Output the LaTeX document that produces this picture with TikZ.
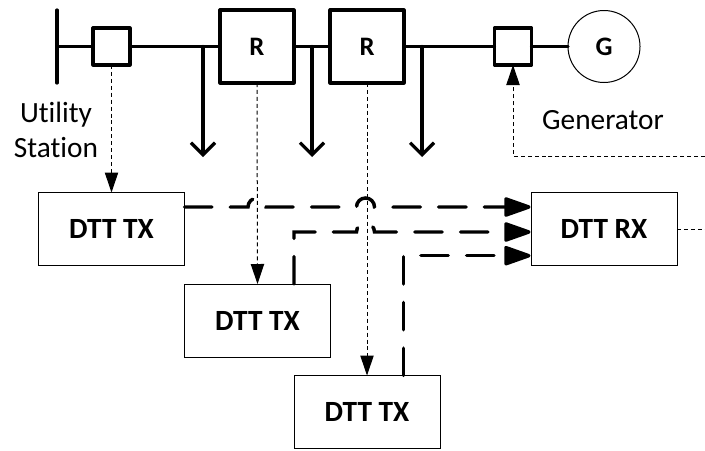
\documentclass[tikz,border=0pt]{standalone}
\usepackage{fontspec}
\setmainfont[Ligatures=NoCommon]{Carlito}
\usetikzlibrary{arrows.meta}
\tikzset{
  power/.style={line width=2.4pt,line cap=round},
  heavybox/.style={draw,line width=2.4pt,line join=round,outer sep=0pt,inner sep=0pt,font=\fontsize{20}{24}\bfseries\selectfont},
  breaker/.style={heavybox,minimum width=27.75pt,minimum height=27.75pt},
  relay/.style={heavybox,minimum width=55.5pt,minimum height=54.75pt},
  dttbox/.style={draw,line width=0.75pt,outer sep=0pt,inner sep=0pt,minimum width=109.5pt,minimum height=54.75pt,font=\fontsize{22}{26}\bfseries\selectfont},
  gencircle/.style={draw,circle,line width=0.75pt,outer sep=0pt,inner sep=0pt,minimum size=54pt,font=\fontsize{20}{24}\bfseries\selectfont},
  caption/.style={inner sep=0pt,align=center,font=\fontsize{22}{27}\selectfont},
  load/.style={power,-{Straight Barb[length=9pt,width=18pt,line width=2.4pt]}},
  signal/.style={line width=0.75pt,dash pattern=on 3pt off 2.2pt},
  signaltip/.style={signal,-{Triangle[length=15pt,width=10pt]}},
  trip/.style={line width=2.6pt,line cap=round,dash pattern=on 20.5pt off 13.8pt,-{Triangle[length=22.5pt,width=15pt,round=false]}},
  hop/.style={insert path={arc[start angle=180,end angle=0,radius=6.75pt]}}
}
\begin{document}
\begin{tikzpicture}[x=0.75pt,y=-0.75pt]
\useasboundingbox (0,0) rectangle (705,450);
% nodes
\coordinate (bustop) at (57,10);
\coordinate (busbot) at (57,83);
\coordinate (busmid) at (57,46.5);
\node[breaker] (b1) at (111.5,46.5) {};
\node[relay] (r1) at (257,46.5) {R};
\node[relay] (r2) at (367,46.5) {R};
\node[breaker] (b2) at (513,46.5) {};
\node[gencircle] (g) at (604,46.5) {G};
\node[dttbox] (tx1) at (111.5,229) {DTT TX};
\node[dttbox] (tx2) at (257.5,320.5) {DTT TX};
\node[dttbox] (tx3) at (367,412) {DTT TX};
\node[dttbox] (rx) at (604,229) {DTT RX};
\node[caption] (util) at (56,130) {Utility\\[-1pt]Station};
\node[caption] (gen) at (603,120) {Generator};
% free ends
\coordinate (l1a) at (203,46.5);
\coordinate (l1b) at (203,157);
\coordinate (l2a) at (312,46.5);
\coordinate (l2b) at (312,157);
\coordinate (l3a) at (422,46.5);
\coordinate (l3b) at (422,157);
\coordinate (fbk) at (513,156);
\coordinate (fbkend) at (705,156);
\coordinate (rxend) at (705,229);
\coordinate (hopa) at (248,207);
\coordinate (hopb) at (265,207);
\coordinate (hopc) at (356.5,207);
\coordinate (hopd) at (374.5,207);
\coordinate (rxa) at (530.5,207);
\coordinate (rxb) at (530.5,232);
\coordinate (rxc) at (530.5,255.7);
\coordinate (tx2up) at (294,284);
\coordinate (tx2corner) at (294,232);
\coordinate (hope) at (356.5,232);
\coordinate (tx3up) at (403.5,375.5);
\coordinate (tx3corner) at (403.5,255.7);
% power lines
\draw[power] (bustop) -- (busbot);
\draw[power] (busmid) -- (b1.west);
\draw[power] (b1.east) -- (r1.west);
\draw[power] (r1.east) -- (r2.west);
\draw[power] (r2.east) -- (b2.west);
\draw[power] (b2.east) -- (g.west);
\draw[load] (l1a) -- (l1b);
\draw[load] (l2a) -- (l2b);
\draw[load] (l3a) -- (l3b);
% signal lines
\draw[signaltip] (b1.south) -- (tx1.north);
\draw[signaltip] (r1.south) -- (tx2.north);
\draw[signaltip] (r2.south) -- (tx3.north);
\draw[signaltip] (fbkend) -- (fbk) -- (b2.south);
\draw[signal] (rx.east) -- (rxend);
% trip lines
\draw[trip] (tx1.east |- hopa) -- (hopa) [hop] -- (hopc) [hop] -- (rxa);
\draw[trip] (tx2up) -- (tx2corner) -- (hope) [hop] -- (rxb);
\draw[trip] (tx3up) -- (tx3corner) -- (rxc);
\end{tikzpicture}
\end{document}
